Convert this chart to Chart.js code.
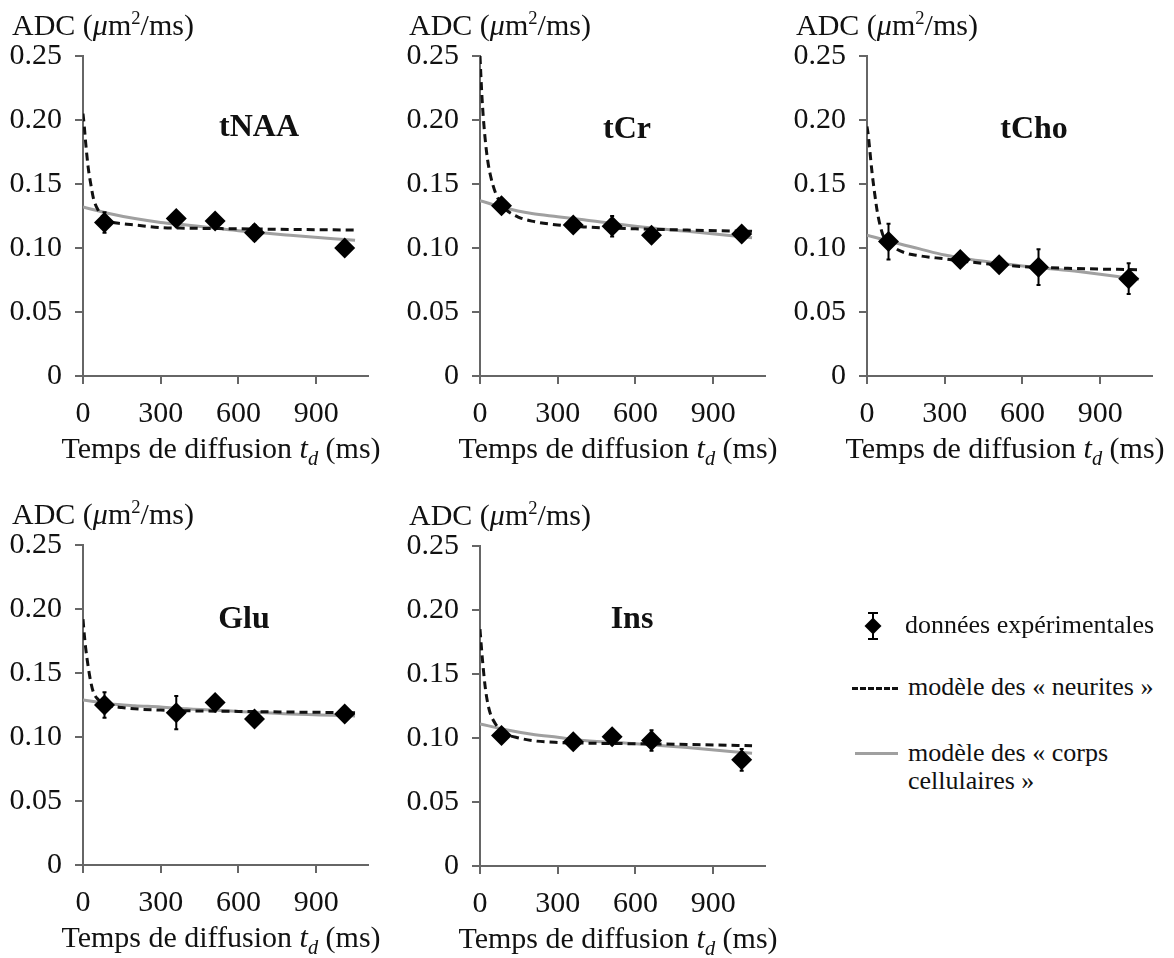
<!DOCTYPE html>
<html><head><meta charset="utf-8">
<script src="https://cdn.jsdelivr.net/npm/chart.js@4.4.0/dist/chart.umd.min.js"></script>
<style>
html,body{margin:0;padding:0;background:#fff;}
body{width:1174px;height:958px;position:relative;overflow:hidden;font-family:"Liberation Serif","Times New Roman",serif;color:#111;}
canvas.cv{position:absolute;}
.t{position:absolute;white-space:nowrap;line-height:1;}
sup{font-size:0.62em;line-height:0;vertical-align:0.6em;}
sub{font-size:0.68em;line-height:0;vertical-align:-0.32em;}
.lg{position:absolute;}
</style></head><body>
<script>
// ---------- data ----------
const times = [83, 360, 510, 662, 1010];          // diffusion times (ms) of the measurements
const dashT = [0, 5, 10, 20, 30, 40, 60, 80, 100, 150, 200, 300, 400, 600, 800, 1050];
const grayT = [0, 100, 200, 300, 400, 600, 800, 1050];
const xTicks = [0, 300, 600, 900];
const xTickLabels = ['0', '300', '600', '900'];
const yTicks = [0, 0.05, 0.10, 0.15, 0.20, 0.25];
const yTickLabels = ['0', '0.05', '0.10', '0.15', '0.20', '0.25'];
const metabolites = ['tNAA', 'tCr', 'tCho', 'Glu', 'Ins'];

const adc_tNAA = [0.120, 0.123, 0.121, 0.112, 0.100];
const err_tNAA = [0.008, 0.003, 0.003, 0.006, 0.003];
const neur_tNAA = [0.205, 0.195, 0.183, 0.163, 0.150, 0.139, 0.129, 0.124, 0.121, 0.119, 0.118, 0.116, 0.1155, 0.115, 0.1145, 0.114];
const cell_tNAA = [0.132, 0.127, 0.123, 0.120, 0.118, 0.1135, 0.110, 0.106];

const adc_tCr = [0.133, 0.118, 0.117, 0.110, 0.111];
const err_tCr = [0.005, 0.004, 0.008, 0.004, 0.004];
const neur_tCr = [0.250, 0.228, 0.210, 0.185, 0.168, 0.157, 0.143, 0.135, 0.130, 0.124, 0.121, 0.118, 0.1165, 0.115, 0.114, 0.113];
const cell_tCr = [0.137, 0.131, 0.127, 0.1245, 0.122, 0.117, 0.113, 0.108];

const adc_tCho = [0.105, 0.091, 0.087, 0.085, 0.076];
const err_tCho = [0.014, 0.004, 0.003, 0.014, 0.012];
const neur_tCho = [0.195, 0.188, 0.178, 0.158, 0.142, 0.128, 0.111, 0.105, 0.101, 0.096, 0.094, 0.0915, 0.089, 0.0855, 0.084, 0.083];
const cell_tCho = [0.110, 0.1045, 0.0995, 0.0945, 0.091, 0.086, 0.082, 0.0755];

const adc_Glu = [0.125, 0.119, 0.127, 0.114, 0.118];
const err_Glu = [0.010, 0.013, 0.003, 0.003, 0.003];
const neur_Glu = [0.192, 0.180, 0.170, 0.155, 0.143, 0.135, 0.129, 0.126, 0.1245, 0.123, 0.122, 0.121, 0.1205, 0.120, 0.1195, 0.119];
const cell_Glu = [0.129, 0.126, 0.1245, 0.1235, 0.122, 0.120, 0.118, 0.1165];

const adc_Ins = [0.102, 0.097, 0.101, 0.098, 0.083];
const err_Ins = [0.003, 0.003, 0.003, 0.008, 0.0085];
const neur_Ins = [0.185, 0.172, 0.160, 0.140, 0.127, 0.119, 0.111, 0.106, 0.103, 0.100, 0.098, 0.0965, 0.096, 0.0955, 0.095, 0.094];
const cell_Ins = [0.111, 0.1065, 0.103, 0.1005, 0.098, 0.0955, 0.0925, 0.088];

// ---------- layout ----------
const axesPos = [ {x:83, y:56}, {x:480, y:56}, {x:867, y:56}, {x:83, y:545}, {x:480, y:546} ];
const labelPos = [ {x:259, y:136}, {x:627, y:138}, {x:1034, y:138}, {x:244, y:628}, {x:632, y:628} ];
const AX = '#666666';
const FONT = '"Liberation Serif", "Times New Roman", serif';

function text(html, x, baseline, size, opts) {
  opts = opts || {};
  const d = document.createElement('div');
  d.className = 't';
  d.innerHTML = html;
  d.style.fontSize = size + 'px';
  if (opts.bold) d.style.fontWeight = 'bold';
  d.style.top = (baseline - 0.8375 * size) + 'px';
  d.style.left = x + 'px';
  if (opts.center) d.style.transform = 'translateX(-50%)';
  document.body.appendChild(d);
  return d;
}

const errPlugin = {
  id: 'errbars',
  afterDatasetsDraw(chart) {
    const ds = chart.data.datasets[0];
    const meta = chart.getDatasetMeta(0);
    const ys = chart.scales.y;
    const ctx = chart.ctx;
    ctx.save();
    ctx.strokeStyle = '#000';
    ctx.lineWidth = 2;
    meta.data.forEach((pt, k) => {
      const v = ds.data[k].y, e = ds.errors[k];
      const y1 = ys.getPixelForValue(v + e), y2 = ys.getPixelForValue(v - e);
      ctx.beginPath();
      ctx.moveTo(pt.x, y1); ctx.lineTo(pt.x, y2);
      ctx.moveTo(pt.x - 2, y1); ctx.lineTo(pt.x + 2, y1);
      ctx.moveTo(pt.x - 2, y2); ctx.lineTo(pt.x + 2, y2);
      ctx.stroke();
    });
    ctx.restore();
  }
};

function makePanel(i, obs, err, neur, cell) {
  const L = 80, T = 50, PW = 285, PH = 320, W = 380, H = 460;
  const ax = axesPos[i];
  const cv = document.createElement('canvas');
  cv.width = W; cv.height = H; cv.className = 'cv';
  cv.style.left = (ax.x - L) + 'px'; cv.style.top = (ax.y - T) + 'px';
  cv.style.width = W + 'px'; cv.style.height = H + 'px';
  document.body.appendChild(cv);
  const tickFont = { family: FONT, size: 30 };
  new Chart(cv, {
    type: 'scatter',
    data: { datasets: [
      { label: 'données expérimentales', data: times.map((t, k) => ({ x: t, y: obs[k] })), errors: err,
        pointStyle: 'rectRot', pointRadius: 10.5, pointHoverRadius: 10.5, backgroundColor: '#000', borderColor: '#000', borderWidth: 0, order: 0 },
      { label: 'modèle des « neurites »', type: 'line', data: dashT.map((t, k) => ({ x: t, y: neur[k] })),
        borderColor: '#111', borderWidth: 3, borderDash: [8, 5], pointRadius: 0, cubicInterpolationMode: 'monotone', fill: false, order: 1 },
      { label: 'modèle des « corps cellulaires »', type: 'line', data: grayT.map((t, k) => ({ x: t, y: cell[k] })),
        borderColor: '#a0a0a0', borderWidth: 3, pointRadius: 0, cubicInterpolationMode: 'monotone', fill: false, order: 2 }
    ] },
    options: {
      responsive: false, animation: false, devicePixelRatio: 1,
      layout: { padding: { left: 0, top: T, right: W - L - PW, bottom: 0 } },
      plugins: { legend: { display: false }, tooltip: { enabled: false } },
      scales: {
        x: {
          type: 'linear', min: 0, max: 1100,
          afterBuildTicks: s => { s.ticks = xTicks.map(v => ({ value: v })); },
          afterFit: s => { s.height = H - T - PH; },
          ticks: { font: tickFont, color: '#111', padding: 12, autoSkip: false, maxRotation: 0,
                   callback: (v, idx) => xTickLabels[idx] },
          grid: { drawOnChartArea: false, drawTicks: true, tickLength: 8, color: AX, lineWidth: 2 },
          border: { display: true, color: AX, width: 2 }
        },
        y: {
          type: 'linear', min: 0, max: 0.25,
          afterBuildTicks: s => { s.ticks = yTicks.map(v => ({ value: v })); },
          afterFit: s => { s.width = L; },
          ticks: { font: tickFont, color: '#111', padding: 13, autoSkip: false,
                   callback: (v, idx) => yTickLabels[idx] },
          grid: { drawOnChartArea: false, drawTicks: true, tickLength: 8, color: AX, lineWidth: 2 },
          border: { display: true, color: AX, width: 2 }
        }
      }
    },
    plugins: [errPlugin]
  });

  // axis titles & panel label
  text('ADC (<i>μ</i>m<sup>2</sup>/ms)', ax.x - 71, ax.y - 21, 30);
  text('Temps de diffusion <i>t</i><sub><i>d</i></sub> (ms)', ax.x + 138, ax.y + PH + 82, 30, { center: true });
  text(metabolites[i], labelPos[i].x, labelPos[i].y, 32, { bold: true, center: true });
}

makePanel(0, adc_tNAA, err_tNAA, neur_tNAA, cell_tNAA);
makePanel(1, adc_tCr, err_tCr, neur_tCr, cell_tCr);
makePanel(2, adc_tCho, err_tCho, neur_tCho, cell_tCho);
makePanel(3, adc_Glu, err_Glu, neur_Glu, cell_Glu);
makePanel(4, adc_Ins, err_Ins, neur_Ins, cell_Ins);

// ---------- legend ----------
(function legend() {
  const bar = document.createElement('div');
  bar.className = 'lg';
  Object.assign(bar.style, { left: '872px', top: '612px', width: '2px', height: '28px', background: '#000' });
  document.body.appendChild(bar);
  [612, 638].forEach(y => {
    const c = document.createElement('div'); c.className = 'lg';
    Object.assign(c.style, { left: '868px', top: y + 'px', width: '10px', height: '2px', background: '#000' });
    document.body.appendChild(c);
  });
  const dm = document.createElement('div'); dm.className = 'lg';
  Object.assign(dm.style, { left: '867px', top: '620px', width: '12px', height: '12px', background: '#000', transform: 'rotate(45deg)' });
  document.body.appendChild(dm);
  text('données expérimentales', 905, 634, 26);

  const dash = document.createElement('div'); dash.className = 'lg';
  Object.assign(dash.style, { left: '852px', top: '687px', width: '46px', height: '0', borderTop: '3px dashed #111' });
  document.body.appendChild(dash);
  text('modèle des « neurites »', 908, 696, 26);

  const solid = document.createElement('div'); solid.className = 'lg';
  Object.assign(solid.style, { left: '855px', top: '752px', width: '43px', height: '3px', background: '#a0a0a0' });
  document.body.appendChild(solid);
  text('modèle des « corps', 908, 762, 26);
  text('cellulaires »', 908, 790, 26);
})();
</script>
</body></html>
